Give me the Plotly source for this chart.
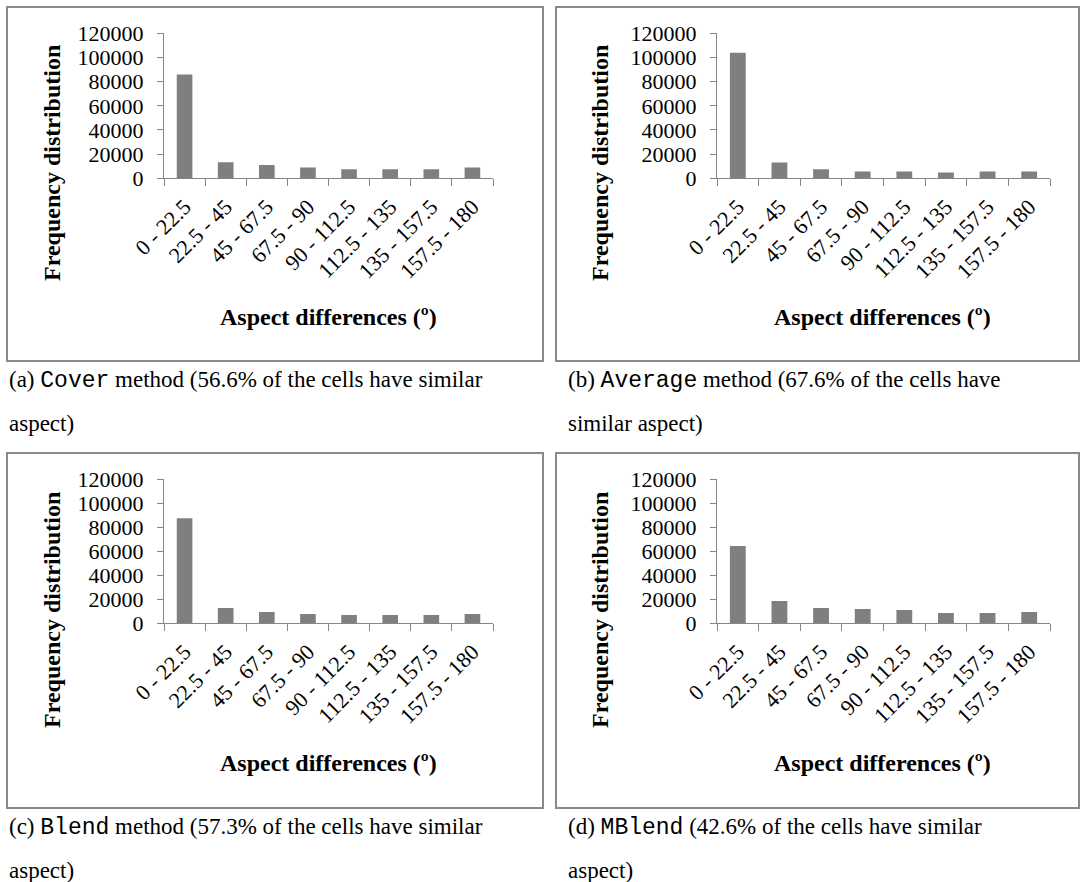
import plotly.graph_objects as go

# Aspect-difference classes (degrees)
classes = ["0 - 22.5", "22.5 - 45", "45 - 67.5", "67.5 - 90",
           "90 - 112.5", "112.5 - 135", "135 - 157.5", "157.5 - 180"]

# Frequency of cells per class for each resampling method
cover_freq = [86000, 13200, 11000, 9000, 7400, 7400, 7400, 9000]
average_freq = [104000, 13000, 7500, 5600, 5600, 4700, 5600, 5600]
blend_freq = [87400, 12700, 9400, 7700, 6900, 6900, 6900, 7700]
mblend_freq = [64200, 18500, 12700, 11900, 11000, 8500, 8500, 9400]

y_ticks = [0, 20000, 40000, 60000, 80000, 100000, 120000]

x_title = "Aspect differences (º)"
y_title = "Frequency distribution"

SERIF = "Liberation Serif, Times New Roman, serif"
MONO = "Liberation Mono, Courier New, monospace"
W, H = 1080, 882
AXIS_GREY = "#868686"
BAR_GREY = "#7f7f7f"


def px(x):
    return x / W


def py(y):
    return 1 - y / H


def code(name):
    return '<span style="font-family:' + MONO + '">' + name + '</span>'


# panel layout in pixels: plot x-extent, plot y-extent (zero, top), frame box
panels = [
    dict(data=cover_freq, x0=164, x1=493, yb=178.3, yt=33.3, box=(7, 7, 543, 361),
         ytx=52, yty=163, xtx=328, xty=317,
         cap=("(a) " + code("Cover") + " method (56.6% of the cells have similar",
              "aspect)"), capx=7, capy=(381, 424)),
    dict(data=average_freq, x0=717, x1=1050, yb=178.3, yt=33.3, box=(556, 7, 1079, 361),
         ytx=600, yty=163, xtx=882, xty=317,
         cap=("(b) " + code("Average") + " method (67.6% of the cells have",
              "similar aspect)"), capx=566, capy=(381, 424)),
    dict(data=blend_freq, x0=164, x1=493, yb=623.3, yt=479, box=(7, 453, 543, 808),
         ytx=52, yty=610, xtx=328, xty=763,
         cap=("(c) " + code("Blend") + " method (57.3% of the cells have similar",
              "aspect)"), capx=7, capy=(827, 870)),
    dict(data=mblend_freq, x0=717, x1=1050, yb=623.3, yt=479, box=(556, 453, 1079, 808),
         ytx=600, yty=610, xtx=882, xty=763,
         cap=("(d) " + code("MBlend") + " (42.6% of the cells have similar",
              "aspect)"), capx=566, capy=(827, 870)),
]

fig = go.Figure()
layout = dict(
    width=W, height=H,
    margin=dict(l=0, r=0, t=0, b=0),
    paper_bgcolor="white", plot_bgcolor="white",
    showlegend=False, bargap=0.62,
    font=dict(family=SERIF, color="black"),
)
shapes, annotations = [], []

for i, p in enumerate(panels, start=1):
    sfx = "" if i == 1 else str(i)
    fig.add_trace(go.Bar(x=classes, y=p["data"], marker=dict(color=BAR_GREY, line=dict(width=0)),
                         xaxis="x" + sfx, yaxis="y" + sfx))
    layout["xaxis" + sfx] = dict(
        domain=[px(p["x0"]), px(p["x1"])], anchor="y" + sfx,
        type="category", tickangle=-45, tickson="boundaries",
        ticks="outside", ticklen=7, tickcolor=AXIS_GREY, tickwidth=1,
        showline=True, linecolor=AXIS_GREY, linewidth=1,
        showgrid=False, zeroline=False, fixedrange=True, automargin=False,
        ticklabelstandoff=6,
        tickfont=dict(family=SERIF, size=22, color="black"),
    )
    layout["yaxis" + sfx] = dict(
        domain=[py(p["yb"]), py(p["yt"])], anchor="x" + sfx,
        range=[0, 120000], tickvals=y_ticks, ticktext=[str(v) for v in y_ticks],
        ticks="outside", ticklen=6, tickcolor=AXIS_GREY, tickwidth=1,
        showline=True, linecolor=AXIS_GREY, linewidth=1,
        showgrid=False, zeroline=False, fixedrange=True, automargin=False,
        ticklabelstandoff=9,
        tickfont=dict(family=SERIF, size=22, color="black"),
    )
    bx0, by0, bx1, by1 = p["box"]
    shapes.append(dict(type="rect", xref="paper", yref="paper",
                       x0=px(bx0), x1=px(bx1), y0=py(by1), y1=py(by0),
                       line=dict(color="#8a8a8a", width=2), layer="below"))
    annotations.append(dict(text=y_title, textangle=-90, xref="paper", yref="paper",
                            x=px(p["ytx"]), y=py(p["yty"]), xanchor="center", yanchor="middle",
                            showarrow=False, font=dict(family=SERIF, size=24, weight="bold")))
    annotations.append(dict(text=x_title, xref="paper", yref="paper",
                            x=px(p["xtx"]), y=py(p["xty"]), xanchor="center", yanchor="middle",
                            showarrow=False, font=dict(family=SERIF, size=24, weight="bold")))
    for line, cy in zip(p["cap"], p["capy"]):
        annotations.append(dict(text=line, xref="paper", yref="paper",
                                x=px(p["capx"]), y=py(cy), xanchor="left", yanchor="middle",
                                showarrow=False, font=dict(family=SERIF, size=23)))

layout["shapes"] = shapes
layout["annotations"] = annotations
fig.update_layout(**layout)
fig.write_html("out.html")
